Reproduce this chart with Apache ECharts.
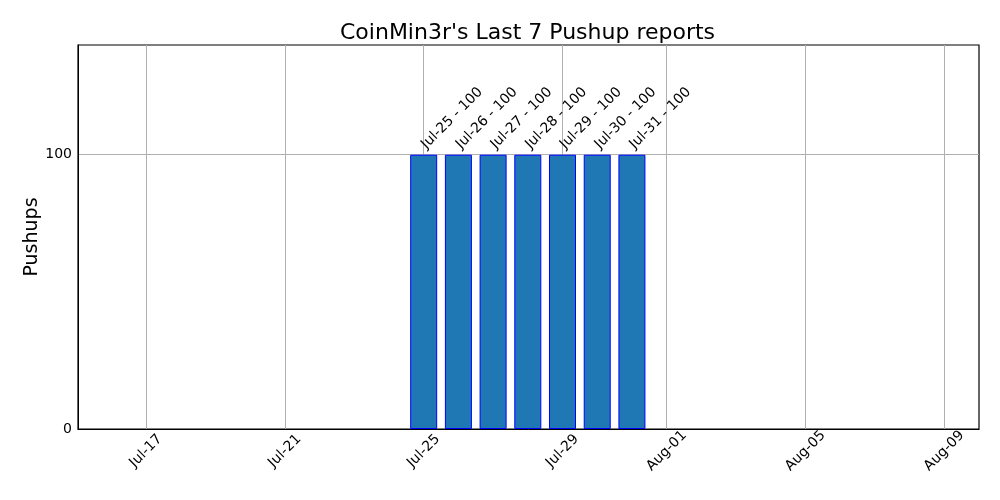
<!DOCTYPE html>
<html>
<head>
<meta charset="utf-8">
<script src="https://cdn.jsdelivr.net/npm/echarts@6/dist/echarts.min.js"></script>
<style>
html, body { margin: 0; padding: 0; background: #fff; }
#main { width: 1000px; height: 500px; }
</style>
</head>
<body>
<div id="main"></div>
<script>
// data
var dates = ["2023-07-25", "2023-07-26", "2023-07-27", "2023-07-28", "2023-07-29", "2023-07-30", "2023-07-31"];
var pushups = [100, 100, 100, 100, 100, 100, 100];
var xTicks = ["2023-07-17", "2023-07-21", "2023-07-25", "2023-07-29", "2023-08-01", "2023-08-05", "2023-08-09"];
var yTicks = [0, 100];

var DAY = 86400000;
var months = ["Jan", "Feb", "Mar", "Apr", "May", "Jun", "Jul", "Aug", "Sep", "Oct", "Nov", "Dec"];
// dates as day numbers, so the x axis can be a plain value axis
function dn(s) { return Date.parse(s + "T00:00:00Z") / DAY; }
function md(n) {
	var d = new Date(Math.round(n) * DAY);
	var day = d.getUTCDate();
	return months[d.getUTCMonth()] + "-" + (day < 10 ? "0" + day : day);
}

var barData = [];
for (var i = 0; i < dates.length; i++) {
	barData.push([dn(dates[i]), pushups[i]]);
}
var tickVals = xTicks.map(dn);

var font = "DejaVu Sans";
var myChart = echarts.init(document.getElementById("main"));
var option = {
	backgroundColor: "#ffffff",
	animation: false,
	title: {
		text: "CoinMin3r's Last 7 Pushup reports",
		left: 335,
		top: 17,
		textStyle: { fontFamily: font, fontSize: 22, fontWeight: "normal", color: "#000" }
	},
	grid: {
		left: 78, right: 21, top: 45, bottom: 71,
		show: true, borderColor: "#000", borderWidth: 1.2, backgroundColor: "transparent"
	},
	xAxis: {
		type: "value",
		min: dn("2023-07-15") + 0.04,
		max: dn("2023-08-10"),
		axisLine: { show: true, onZero: false, lineStyle: { color: "#000" } },
		axisTick: { show: false, customValues: tickVals },
		splitLine: { show: true, lineStyle: { color: "#b0b0b0", width: 1 } },
		axisLabel: {
			customValues: tickVals,
			rotate: 45,
			align: "center",
			verticalAlign: "middle",
			margin: 22,
			fontFamily: font,
			fontSize: 14,
			color: "#000",
			formatter: function (v) { return md(v); }
		}
	},
	yAxis: {
		type: "value",
		min: 0,
		max: 140,
		name: "Pushups",
		nameLocation: "middle",
		nameGap: 36,
		nameMoveOverlap: false,
		nameTextStyle: { fontFamily: font, fontSize: 19, color: "#000" },
		axisLine: { show: true, lineStyle: { color: "#000" } },
		axisTick: { show: false, customValues: yTicks },
		splitLine: { show: true, lineStyle: { color: "#b0b0b0", width: 1 } },
		axisLabel: {
			customValues: yTicks,
			margin: 6,
			fontFamily: font,
			fontSize: 14,
			color: "#000"
		}
	},
	series: [{
		type: "bar",
		data: barData,
		barWidth: 27,
		itemStyle: { color: "#1f77b4", borderColor: "#0000ff", borderWidth: 1 },
		label: {
			show: true,
			position: "top",
			rotate: 45,
			align: "left",
			verticalAlign: "middle",
			distance: 8,
			fontFamily: font,
			fontSize: 14,
			color: "#000",
			formatter: function (p) { return md(p.value[0]) + " - " + p.value[1]; }
		}
	}]
};
myChart.setOption(option);
</script>
</body>
</html>
